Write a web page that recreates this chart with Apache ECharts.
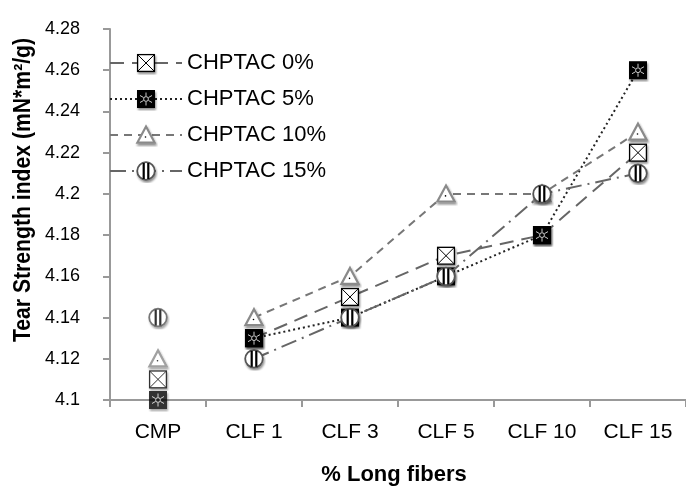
<!DOCTYPE html>
<html>
<head>
<meta charset="utf-8">
<script src="https://cdn.jsdelivr.net/npm/echarts@6/dist/echarts.min.js"></script>
<style>html,body{margin:0;padding:0;background:#fff;}#c{width:686px;height:496px;}</style>
</head>
<body>
<div id="c"></div>
<script>
var categories = ['CMP', 'CLF 1', 'CLF 3', 'CLF 5', 'CLF 10', 'CLF 15'];
var seriesNames = ['CHPTAC 0%', 'CHPTAC 5%', 'CHPTAC 10%', 'CHPTAC 15%'];
var chptac0 = [4.11, 4.13, 4.15, 4.17, 4.18, 4.22];
var chptac5 = [4.10, 4.13, 4.14, 4.16, 4.18, 4.26];
var chptac10 = [4.12, 4.14, 4.16, 4.20, 4.20, 4.23];
var chptac15 = [4.14, 4.12, 4.14, 4.16, 4.20, 4.21];
var yMin = 4.1, yMax = 4.28, yStep = 0.02;
var xTitle = '% Long fibers';
var yTitle = 'Tear Strength index (mN*m\u00B2/g)';

var FONT = 'Liberation Sans';
function svgSym(inner) {
  var svg = "<svg xmlns='http://www.w3.org/2000/svg' width='48' height='48' viewBox='0 0 24 24'>" +
    "<defs><filter id='s' x='-30%' y='-30%' width='170%' height='170%'>" +
    "<feGaussianBlur in='SourceAlpha' stdDeviation='1.1' result='a'/>" +
    "<feOffset in='a' dx='1' dy='1.5' result='b'/>" +
    "<feComponentTransfer in='b' result='c'><feFuncA type='linear' slope='0.45'/></feComponentTransfer>" +
    "<feMerge><feMergeNode in='c'/><feMergeNode in='SourceGraphic'/></feMerge></filter></defs>" +
    "<g filter='url(#s)'>" + inner + "</g></svg>";
  return 'image://data:image/svg+xml;charset=utf-8,' + encodeURIComponent(svg);
}
var symbols = [
  svgSym("<rect x='3.6' y='3.6' width='16.8' height='16.8' fill='white' stroke='black' stroke-width='1.3'/><path d='M3.6 3.6L20.4 20.4M20.4 3.6L3.6 20.4' stroke='black' stroke-width='1' fill='none'/>"),
  svgSym("<rect x='3' y='3' width='18' height='18' fill='black'/><g stroke='white' stroke-width='0.8' fill='none'><circle cx='12' cy='12' r='2.4'/><path d='M12 5.5v3.5M12 15v3.5M6 8.5l3.5 2M14.5 13.5l3.5 2M6 15.5l3.5-2M14.5 10.5l3.5-2'/></g>"),
  svgSym("<path d='M12 3.6L20.6 19.6H3.4Z' fill='white' stroke='#8a8a8a' stroke-width='2.2'/><circle cx='11.5' cy='14' r='0.8' fill='black'/>"),
  svgSym("<circle cx='12' cy='12' r='8.8' fill='white' stroke='#555' stroke-width='1.8'/><rect x='8.6' y='4' width='2.2' height='16' fill='black'/><rect x='13.2' y='4' width='2.2' height='16' fill='black'/>")
];
var lineStyles = [
  {color: '#666', width: 2, type: [14, 8]},
  {color: '#222', width: 2, type: [2, 3]},
  {color: '#777', width: 2, type: [8, 6]},
  {color: '#666', width: 2, type: [16, 6, 2, 6]}
];
var allData = [chptac0, chptac5, chptac10, chptac15];

var series = [];
allData.forEach(function (d, i) {
  series.push({
    name: seriesNames[i], type: 'line',
    data: d.map(function (v, j) { return j === 0 ? '-' : v; }),
    symbol: symbols[i], symbolSize: 24, showAllSymbol: true,
    lineStyle: lineStyles[i], itemStyle: {color: lineStyles[i].color},
    z: 2 + i
  });
});
allData.forEach(function (d, i) {
  series.push({
    name: 'cmp' + i, type: 'scatter',
    data: [[0, d[0]]],
    symbol: symbols[i], symbolSize: 24, z: 2 + i
  });
});

var chart = echarts.init(document.getElementById('c'), null, {renderer: 'canvas'});
chart.setOption({
  animation: false,
  backgroundColor: '#fff',
  grid: {left: 110, right: -8, top: 29, bottom: 96, containLabel: false},
  legend: {
    data: seriesNames, left: 104, top: 46, orient: 'vertical',
    itemWidth: 72, itemHeight: 30, itemGap: 12,
    textStyle: {fontFamily: FONT, fontSize: 22, color: '#000'}
  },
  xAxis: {
    type: 'category', data: categories, boundaryGap: true,
    axisLine: {lineStyle: {color: '#999', width: 2}},
    axisTick: {show: true, length: 7, lineStyle: {color: '#999', width: 2}},
    axisLabel: {fontFamily: FONT, fontSize: 21, color: '#000', margin: 22},
    name: xTitle, nameLocation: 'middle', nameGap: 64,
    nameTextStyle: {fontFamily: FONT, fontSize: 22, fontWeight: 'bold', color: '#000', padding: [0, 8, 0, 0]}
  },
  yAxis: {
    type: 'value', min: yMin, max: yMax, interval: yStep,
    axisLine: {show: true, lineStyle: {color: '#999', width: 2}},
    axisTick: {show: true, length: 7, lineStyle: {color: '#999', width: 2}},
    splitLine: {show: false},
    axisLabel: {fontFamily: FONT, fontSize: 18, color: '#000', margin: 30,
      formatter: function (v) { return String(parseFloat(v.toFixed(2))); }}
  },
  graphic: [{
    type: 'text', x: 24, y: 190, rotation: Math.PI / 2, scaleX: 0.92,
    style: {text: yTitle, font: 'bold 23px "Liberation Sans"', fill: '#000', align: 'center', verticalAlign: 'middle'}
  }],
  series: series
});
</script>
</body>
</html>
